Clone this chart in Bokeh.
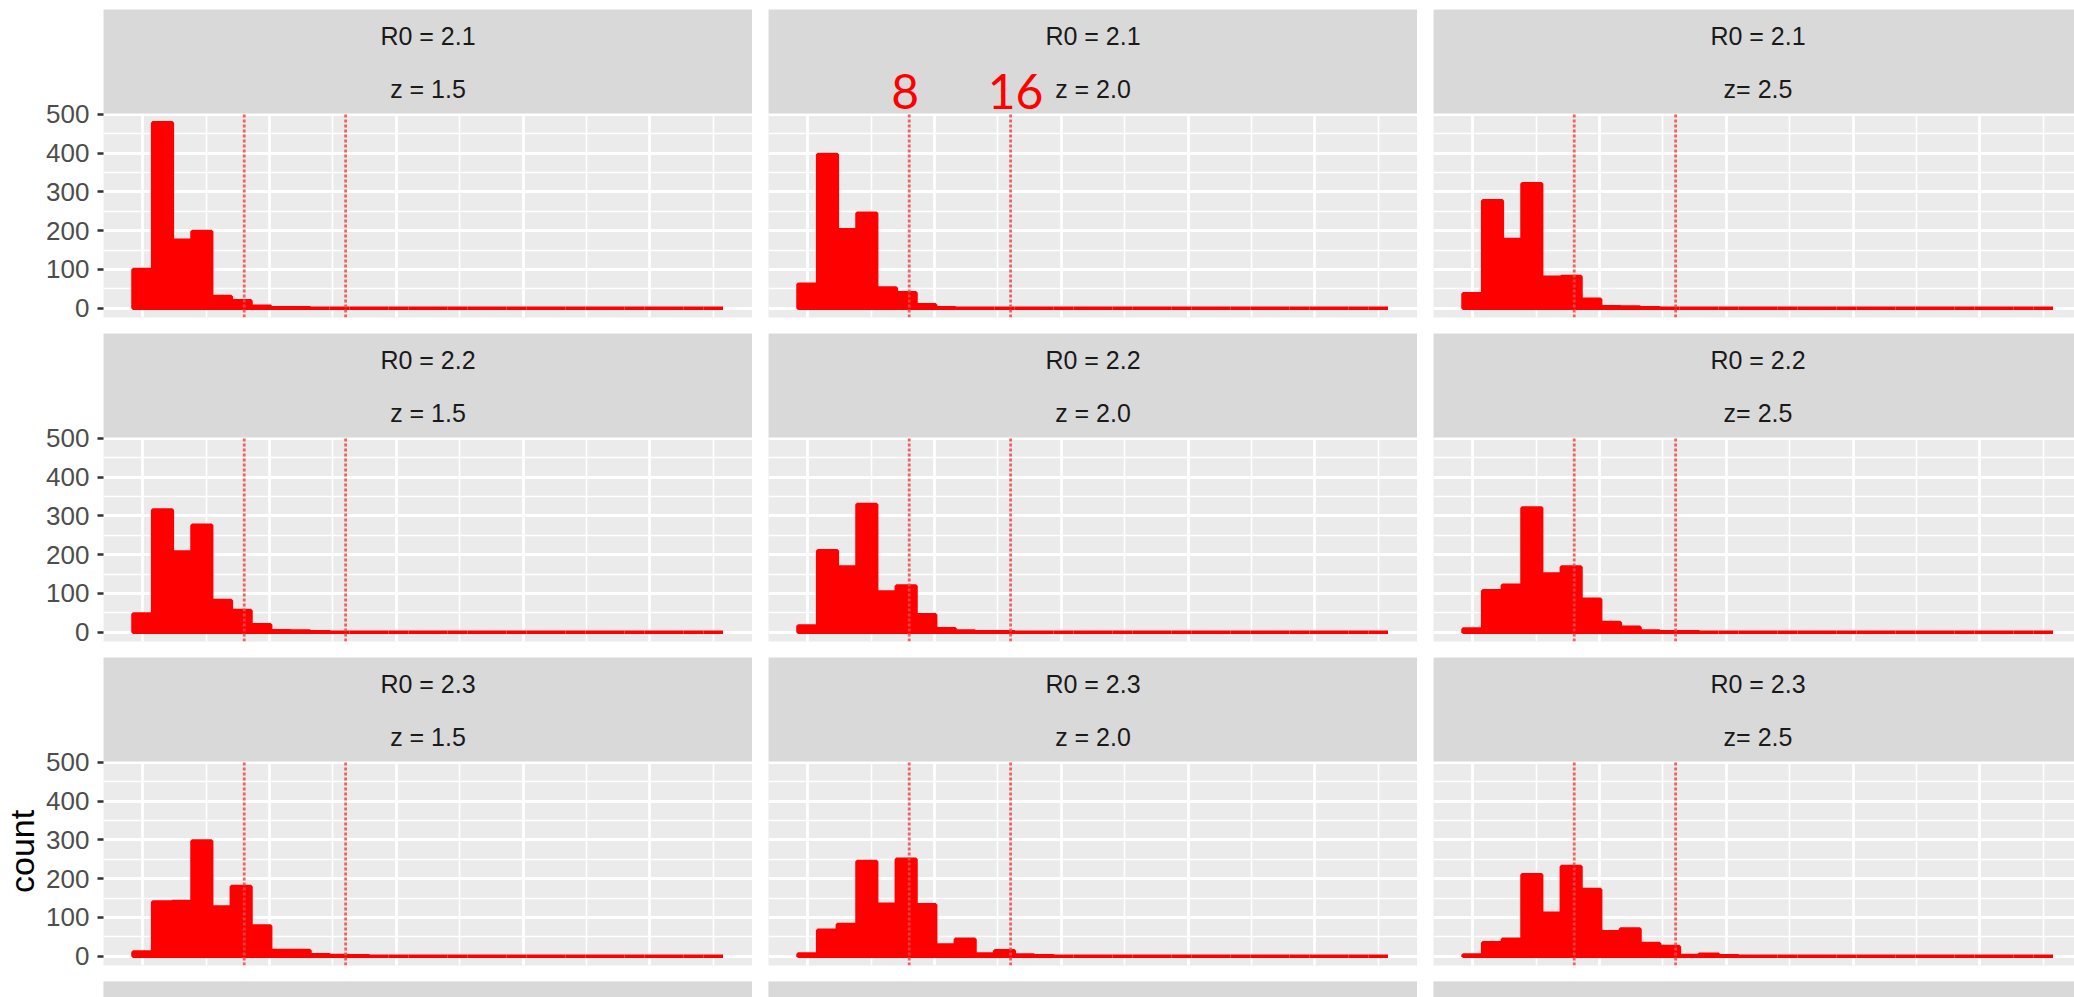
import math
from bokeh.plotting import figure
from bokeh.models import Range1d, FixedTicker, LinearAxis, Grid, ColumnDataSource
from bokeh.layouts import column, row
from bokeh.core.properties import value
from bokeh.embed import file_html
from bokeh.resources import INLINE

# ---------------- data ----------------
R0_LABELS = ["R0 = 2.1", "R0 = 2.2", "R0 = 2.3"]
Z_LABELS = ["z = 1.5", "z = 2.0", "z= 2.5"]
Y_TITLE = "count"

# histogram counts, 30 bins over values 0..45
counts_r21_z15 = [100, 478, 175, 198, 30, 19, 5, 1, 1, 0, 0, 0, 0, 0, 0, 0, 0, 0, 0, 0, 0, 0, 0, 0, 0, 0, 0, 0, 0, 0]
counts_r21_z20 = [62, 396, 202, 245, 52, 40, 9, 1, 0, 0, 0, 0, 0, 0, 0, 0, 0, 0, 0, 0, 0, 0, 0, 0, 0, 0, 0, 0, 0, 0]
counts_r21_z25 = [37, 277, 177, 321, 80, 82, 23, 4, 3, 1, 0, 0, 0, 0, 0, 0, 0, 0, 0, 0, 0, 0, 0, 0, 0, 0, 0, 0, 0, 0]
counts_r22_z15 = [47, 315, 207, 276, 82, 56, 19, 4, 3, 1, 0, 0, 0, 0, 0, 0, 0, 0, 0, 0, 0, 0, 0, 0, 0, 0, 0, 0, 0, 0]
counts_r22_z20 = [16, 210, 168, 329, 104, 119, 45, 9, 3, 1, 1, 0, 0, 0, 0, 0, 0, 0, 0, 0, 0, 0, 0, 0, 0, 0, 0, 0, 0, 0]
counts_r22_z25 = [8, 107, 121, 320, 150, 168, 85, 25, 13, 3, 1, 1, 0, 0, 0, 0, 0, 0, 0, 0, 0, 0, 0, 0, 0, 0, 0, 0, 0, 0]
counts_r23_z15 = [11, 140, 141, 297, 127, 180, 78, 15, 15, 4, 2, 1, 0, 0, 0, 0, 0, 0, 0, 0, 0, 0, 0, 0, 0, 0, 0, 0, 0, 0]
counts_r23_z20 = [6, 67, 82, 244, 134, 250, 133, 29, 44, 6, 14, 3, 1, 0, 0, 0, 0, 0, 0, 0, 0, 0, 0, 0, 0, 0, 0, 0, 0, 0]
counts_r23_z25 = [3, 35, 44, 210, 111, 231, 172, 63, 70, 33, 25, 2, 5, 1, 0, 0, 0, 0, 0, 0, 0, 0, 0, 0, 0, 0, 0, 0, 0, 0]

THRESHOLDS = [8, 16]
THRESHOLD_NOTES = ["8", "16"]
X_MAJOR = [0, 10, 20, 30, 40]
X_MINOR = [5, 15, 25, 35, 45]
Y_MAJOR = [0, 100, 200, 300, 400, 500]
Y_MINOR = [50, 150, 250, 350, 450]
DATA_MIN, DATA_MAX, N_BINS = 0, 45, 30

PANELS = [
    [counts_r21_z15, counts_r21_z20, counts_r21_z25],
    [counts_r22_z15, counts_r22_z20, counts_r22_z25],
    [counts_r23_z15, counts_r23_z20, counts_r23_z25],
]

# ---------------- scales ----------------
binw = (DATA_MAX - DATA_MIN) / (N_BINS - 1)
lefts = [DATA_MIN - binw / 2 + k * binw for k in range(N_BINS)]
rights = [l + binw for l in lefts]
span = rights[-1] - lefts[0]
X0 = lefts[0] - 0.05 * span
X1 = rights[-1] + 0.05 * span
ymax_data = max(max(c) for r in PANELS for c in r)
Y0 = -0.05 * ymax_data
Y1 = 1.05 * ymax_data

# ---------------- layout (px) ----------------
FRAME_W = 649
COL_FRAME_W = [649, 649, 641]
COL_BORDER_L = [103, 16, 16]
PANEL_H = 204
STRIP_H = 104
ROW_TOPS = [9, 0, 0]
ROW_BOTTOM = 16
TAIL_H = 997 - (9 + 3 * (STRIP_H + PANEL_H + ROW_BOTTOM))
TITLE_W = 42          # width of the strip that carries the y title (row 3)
TITLE_CX = 21         # px from the left
TITLE_CY_FROM_TOP = 204  # px below the top of row 3

ppx = FRAME_W / (X1 - X0)
ppy = PANEL_H / (Y1 - Y0)
STRIP_TOP = Y1 + STRIP_H / ppy

BG = "#EBEBEB"
STRIP_BG = "#D9D9D9"
FONT = "Liberation Sans"

rows = []
for r in range(3):
    figs = []
    row_h = ROW_TOPS[r] + STRIP_H + PANEL_H + ROW_BOTTOM
    if r == 2:
        t = figure(width=TITLE_W, height=row_h, x_range=Range1d(0, TITLE_W), y_range=Range1d(0, row_h),
                   x_axis_type=None, y_axis_type=None, output_backend="svg", toolbar_location=None,
                   min_border_left=0, min_border_right=0, min_border_top=0, min_border_bottom=0,
                   background_fill_color="white", border_fill_color="white", outline_line_color=None)
        t.text(x=[TITLE_CX], y=[row_h - TITLE_CY_FROM_TOP], text=[Y_TITLE], angle=math.pi / 2,
               text_font=value(FONT), text_font_size="34px", text_color="black",
               text_align="center", text_baseline="middle")
        figs.append(t)
    for c in range(3):
        fw = COL_FRAME_W[c]
        bl = COL_BORDER_L[c] - (TITLE_W if (r == 2 and c == 0) else 0)
        xr = Range1d(X0, X0 + fw / ppx)
        p = figure(width=bl + fw, height=row_h,
                   x_range=xr, y_range=Range1d(Y0, STRIP_TOP),
                   x_axis_type=None, y_axis_type=None,
                   output_backend="svg", toolbar_location=None,
                   min_border_left=bl, min_border_right=0,
                   min_border_top=ROW_TOPS[r], min_border_bottom=ROW_BOTTOM,
                   background_fill_color=BG, border_fill_color="white",
                   outline_line_color=None)
        xg = Grid(dimension=0, ticker=FixedTicker(ticks=X_MAJOR, minor_ticks=X_MINOR),
                  grid_line_color="white", grid_line_width=2.8,
                  minor_grid_line_color="white", minor_grid_line_width=1.6)
        yg = Grid(dimension=1, ticker=FixedTicker(ticks=Y_MAJOR, minor_ticks=Y_MINOR),
                  grid_line_color="white", grid_line_width=2.8,
                  minor_grid_line_color="white", minor_grid_line_width=1.6)
        p.add_layout(xg, "center")
        p.add_layout(yg, "center")
        if c == 0:
            ax = LinearAxis(ticker=FixedTicker(ticks=Y_MAJOR))
            ax.axis_line_color = None
            ax.minor_tick_line_color = None
            ax.major_tick_out = 6
            ax.major_tick_in = 0
            ax.major_tick_line_width = 2.5
            ax.major_tick_line_color = "#333333"
            ax.major_label_text_font = FONT
            ax.major_label_text_font_size = "26px"
            ax.major_label_text_color = "#4D4D4D"
            ax.major_label_standoff = 8
            p.add_layout(ax, "left")

        src = ColumnDataSource(dict(left=lefts, right=rights, top=PANELS[r][c], bottom=[0] * N_BINS))
        p.quad(left="left", right="right", top="top", bottom="bottom", source=src,
               fill_color="red", line_color="red", line_width=3.5)
        p.segment(x0=THRESHOLDS, y0=[Y0] * len(THRESHOLDS), x1=THRESHOLDS, y1=[Y1] * len(THRESHOLDS),
                  line_color="#EE4A4A", line_width=2.8, line_dash="3 2", line_alpha=0.85)
        # strip
        p.quad(left=[X0], right=[xr.end], bottom=[Y1], top=[STRIP_TOP],
               fill_color=STRIP_BG, line_color=None)
        xmid = X0 + (FRAME_W / 2) / ppx
        p.text(x=[xmid, xmid], y=[STRIP_TOP - 26.7 / ppy, STRIP_TOP - 79.2 / ppy],
               text=[R0_LABELS[r], Z_LABELS[c]], text_font=value(FONT), text_font_size="25px",
               text_color="#1A1A1A", text_align="center", text_baseline="middle")
        if r == 0 and c == 1:
            nsrc = ColumnDataSource(dict(x=THRESHOLDS, y=[Y1 + 22 / ppy] * len(THRESHOLDS),
                                         t=THRESHOLD_NOTES, dx=[-4, 5]))
            p.text(x="x", y="y", text="t", x_offset="dx", source=nsrc,
                   text_font=value("Lato"), text_font_size="48px", text_color="red",
                   text_align="center", text_baseline="alphabetic")
        figs.append(p)
    rows.append(row(*figs))

# partial strips of the next (cut off) row
tail = []
for c in range(3):
    fw = COL_FRAME_W[c]
    q = figure(width=COL_BORDER_L[c] + fw, height=TAIL_H,
               x_range=Range1d(X0, X0 + fw / ppx), y_range=Range1d(0, 1),
               x_axis_type=None, y_axis_type=None,
               output_backend="svg", toolbar_location=None,
               min_border_left=COL_BORDER_L[c], min_border_right=0,
               min_border_top=0, min_border_bottom=0,
               background_fill_color=STRIP_BG, border_fill_color="white",
               outline_line_color=None)
    q.quad(left=[X0], right=[X0 + fw / ppx], bottom=[0], top=[1], fill_color=STRIP_BG, line_color=None)
    tail.append(q)
rows.append(row(*tail))

layout = column(*rows)
open("out.html", "w").write(file_html(layout, INLINE))
